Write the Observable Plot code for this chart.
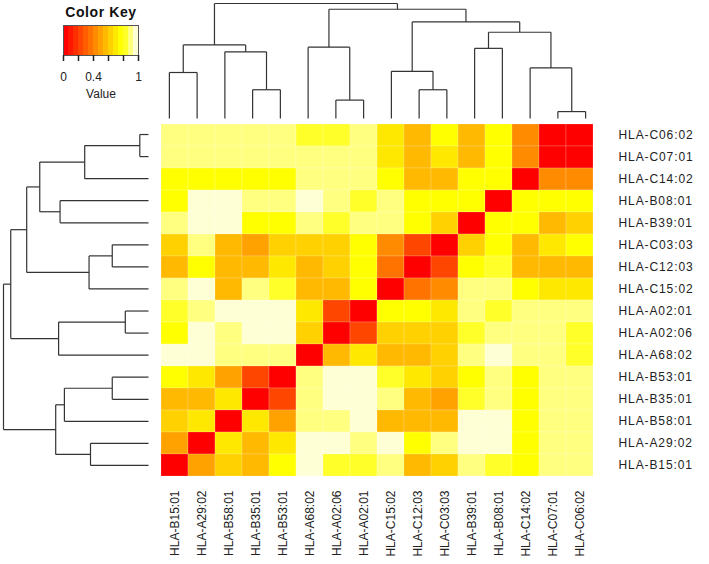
<!DOCTYPE html>
<html><head><meta charset="utf-8">
<script src="https://cdn.jsdelivr.net/npm/d3@7"></script>
<script src="https://cdn.jsdelivr.net/npm/@observablehq/plot@0.6"></script>
<style>
body{margin:0;background:#fff;}
#wrap{position:relative;width:709px;height:564px;overflow:hidden;background:#fff;}
#wrap svg{position:absolute;left:0;top:0;background:transparent !important;}
</style></head><body><div id="wrap"></div>
<script>
// ---------- data ----------
const colLabels = ["HLA-B15:01","HLA-A29:02","HLA-B58:01","HLA-B35:01","HLA-B53:01","HLA-A68:02","HLA-A02:06","HLA-A02:01","HLA-C15:02","HLA-C12:03","HLA-C03:03","HLA-B39:01","HLA-B08:01","HLA-C14:02","HLA-C07:01","HLA-C06:02"];
const rowLabels = ["HLA-C06:02","HLA-C07:01","HLA-C14:02","HLA-B08:01","HLA-B39:01","HLA-C03:03","HLA-C12:03","HLA-C15:02","HLA-A02:01","HLA-A02:06","HLA-A68:02","HLA-B53:01","HLA-B35:01","HLA-B58:01","HLA-A29:02","HLA-B15:01"];
// values[row][col], rows top->bottom, cols left->right
const values = [
 [0.90,0.90,0.90,0.90,0.90,0.83,0.83,0.90,0.70,0.57,0.77,0.57,0.77,0.43,0.03,0.00],
 [0.90,0.90,0.90,0.90,0.90,0.90,0.90,0.90,0.70,0.57,0.70,0.57,0.77,0.43,0.00,0.03],
 [0.77,0.77,0.77,0.77,0.77,0.90,0.90,0.90,0.77,0.57,0.57,0.77,0.77,0.00,0.43,0.43],
 [0.77,0.97,0.97,0.90,0.90,0.97,0.90,0.83,0.90,0.77,0.77,0.77,0.00,0.77,0.77,0.77],
 [0.90,0.97,0.97,0.77,0.77,0.90,0.83,0.90,0.90,0.77,0.63,0.00,0.77,0.77,0.57,0.63],
 [0.63,0.90,0.57,0.50,0.62,0.63,0.65,0.77,0.43,0.23,0.00,0.63,0.77,0.57,0.70,0.77],
 [0.57,0.77,0.57,0.57,0.67,0.57,0.65,0.77,0.37,0.00,0.23,0.77,0.81,0.57,0.57,0.57],
 [0.90,0.97,0.57,0.90,0.81,0.58,0.57,0.77,0.00,0.37,0.43,0.90,0.90,0.77,0.70,0.70],
 [0.81,0.90,0.97,0.97,0.97,0.70,0.23,0.00,0.77,0.77,0.70,0.90,0.81,0.90,0.90,0.90],
 [0.77,0.97,0.90,0.97,0.97,0.62,0.00,0.23,0.62,0.65,0.65,0.81,0.90,0.90,0.90,0.83],
 [0.97,0.97,0.90,0.90,0.90,0.00,0.58,0.67,0.58,0.57,0.63,0.90,0.97,0.90,0.90,0.83],
 [0.77,0.67,0.50,0.25,0.00,0.90,0.97,0.97,0.81,0.67,0.62,0.77,0.90,0.77,0.90,0.90],
 [0.58,0.57,0.70,0.00,0.25,0.90,0.97,0.97,0.90,0.57,0.50,0.81,0.90,0.77,0.90,0.90],
 [0.62,0.67,0.00,0.70,0.50,0.90,0.90,0.97,0.57,0.57,0.57,0.97,0.97,0.77,0.90,0.90],
 [0.50,0.00,0.67,0.57,0.67,0.97,0.97,0.90,0.97,0.77,0.90,0.97,0.97,0.77,0.90,0.90],
 [0.00,0.50,0.62,0.58,0.77,0.97,0.81,0.81,0.90,0.57,0.63,0.90,0.81,0.77,0.90,0.90]
];
// hierarchical clustering merges (same tree for rows and columns)
const mergeIds    = ["n0","n1","n2","n3","n4","n5","n6","n7","n8","n9","n10","n11","n12","n13","n14"];
const mergeLeft   = ["HLA-C07:01","HLA-A02:06","HLA-B35:01","HLA-C12:03","HLA-B15:01","HLA-C15:02","HLA-C14:02","HLA-B58:01","HLA-B39:01","HLA-A68:02","n4","n8","n5","n9","n10"];
const mergeRight  = ["HLA-C06:02","HLA-A02:01","HLA-B53:01","HLA-C03:03","HLA-A29:02","n3","n0","n2","HLA-B08:01","n1","n7","n6","n11","n12","n13"];
const mergeHeight = [0.06,0.16,0.25,0.25,0.40,0.41,0.44,0.58,0.61,0.62,0.64,0.75,0.84,0.95,1.00];
// R heat.colors(15)
const heatColors = ["#FF0000","#FF1700","#FF2E00","#FF4600","#FF5D00","#FF7400","#FF8B00","#FFA200","#FFB900","#FFD100","#FFE800","#FFFF00","#FFFF2A","#FFFF80","#FFFFD5"];
const keyTicks = [0,0.2,0.4,0.6,0.8,1];
const keyTickLabels = ["0","","0.4","","","1"];

// ---------- helpers ----------
const nBins = heatColors.length;
const thresholds = d3.range(1, nBins).map(i => i / nBins);
const colorScale = {type:"threshold", domain:thresholds, range:heatColors};
const FONT = "'Liberation Sans', Arial, Helvetica, sans-serif";

function treeSegments(leafOrder){
  const pos = new Map(leafOrder.map((n,i)=>[n,{p:i,h:0}]));
  const segs = [];
  mergeIds.forEach((id,k)=>{
    const a = pos.get(mergeLeft[k]), b = pos.get(mergeRight[k]), h = mergeHeight[k];
    segs.push({p1:a.p,h1:a.h,p2:a.p,h2:h});
    segs.push({p1:b.p,h1:b.h,p2:b.p,h2:h});
    segs.push({p1:a.p,h1:h,p2:b.p,h2:h});
    pos.set(id,{p:(a.p+b.p)/2,h});
  });
  return segs;
}

const wrap = document.getElementById("wrap");

// ---------- heatmap ----------
const cells = [];
rowLabels.forEach((r,i)=>colLabels.forEach((c,j)=>cells.push({row:r,col:c,value:values[i][j]})));
const heat = Plot.plot({
  width:709, height:564,
  marginLeft:155, marginRight:110, marginTop:123, marginBottom:88,
  style:{background:"transparent", fontFamily:FONT, color:"#222"},
  x:{type:"band", domain:colLabels, padding:0, axis:null},
  y:{type:"band", domain:rowLabels, padding:0, axis:null},
  color:colorScale,
  marks:[
    Plot.cell(cells,{x:"col", y:"row", fill:"value", stroke:"#ffffff", strokeOpacity:0.3, strokeWidth:0.6}),
    Plot.axisY({anchor:"right", tickSize:0, tickPadding:19, fontSize:12, fill:"#222", label:null}),
    Plot.axisX({anchor:"bottom", tickSize:0, tickPadding:14, tickRotate:-90, fontSize:12, fill:"#222", label:null})
  ]
});
wrap.appendChild(heat);
d3.select(heat).selectAll('g[aria-label="y-axis tick label"] text').style("letter-spacing","0.9px");

// ---------- top dendrogram ----------
const topDen = Plot.plot({
  width:709, height:123,
  marginLeft:155, marginRight:110, marginTop:3, marginBottom:5,
  style:{background:"transparent"},
  x:{type:"linear", domain:[-0.5, colLabels.length-0.5], axis:null},
  y:{type:"linear", domain:[0,1], axis:null},
  marks:[
    Plot.link(treeSegments(colLabels),{x1:"p1", y1:"h1", x2:"p2", y2:"h2", stroke:"#333", strokeWidth:1.2})
  ]
});
wrap.appendChild(topDen);

// ---------- left dendrogram ----------
const leftDen = Plot.plot({
  width:155, height:564,
  marginLeft:3, marginRight:7, marginTop:123, marginBottom:88,
  style:{background:"transparent"},
  x:{type:"linear", domain:[1,0], axis:null},
  y:{type:"linear", domain:[rowLabels.length-0.5, -0.5], axis:null},
  marks:[
    Plot.link(treeSegments(rowLabels),{x1:"h1", y1:"p1", x2:"h2", y2:"p2", stroke:"#333", strokeWidth:1.2})
  ]
});
wrap.appendChild(leftDen);

// ---------- color key ----------
const keyBins = heatColors.map((c,i)=>({x1:thresholds[i-1] ?? 0, x2:thresholds[i] ?? 1}));
const key = Plot.plot({
  width:160, height:110,
  marginLeft:63, marginRight:22, marginTop:25, marginBottom:55,
  style:{background:"transparent", fontFamily:FONT, color:"#222"},
  x:{type:"linear", domain:[0,1], axis:null},
  color:colorScale,
  marks:[
    Plot.rect(keyBins,{x1:"x1", x2:"x2", fill:d=>(d.x1+d.x2)/2}),
    Plot.frame({stroke:"#555", strokeWidth:1}),
    Plot.axisX({ticks:keyTicks, tickSize:6, tickPadding:11, strokeWidth:1.5, stroke:"#222", fontSize:12, tickFormat:(d,i)=>keyTickLabels[i], label:null}),
    Plot.text(["Color Key"],{frameAnchor:"top", dy:-13, lineAnchor:"middle", fontSize:14, fontWeight:"bold", fill:"#111"}),
    Plot.text(["Value"],{frameAnchor:"bottom", dy:39, lineAnchor:"middle", fontSize:12, fill:"#222"})
  ]
});
wrap.appendChild(key);
d3.select(key).selectAll('text').filter(function(){return this.textContent==="Color Key";}).style("letter-spacing","0.6px");
</script></body></html>
